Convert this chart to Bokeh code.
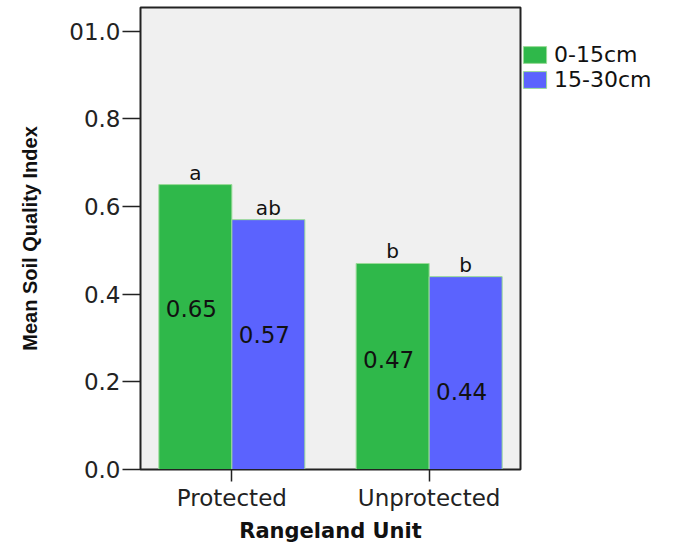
from bokeh.plotting import figure
from bokeh.models import ColumnDataSource, FactorRange, Range1d, FixedTicker, Legend, LegendItem
from bokeh.transform import dodge
from bokeh.core.properties import value
from bokeh.embed import file_html
from bokeh.resources import INLINE

# ---- data ----
units = ["Protected", "Unprotected"]
depths = ["0-15cm", "15-30cm"]
sqi_0_15 = [0.65, 0.47]
sqi_15_30 = [0.57, 0.44]
letters_0_15 = ["a", "b"]
letters_15_30 = ["ab", "b"]
value_labels_0_15 = ["0.65", "0.47"]
value_labels_15_30 = ["0.57", "0.44"]
label_pos_0_15 = [0.368, 0.25]
label_pos_15_30 = [0.309, 0.179]
y_ticks = [0.0, 0.2, 0.4, 0.6, 0.8, 1.0]
y_tick_labels = ["0.0", "0.2", "0.4", "0.6", "0.8", "01.0"]

GREEN = "#2fb84a"
BLUE = "#5b63fe"
EDGE = "#9adb98"
FONT = "DejaVu Sans"

p = figure(
    frame_width=380, frame_height=462,
    x_range=FactorRange(*units, range_padding=-0.037),
    y_range=Range1d(0, 1.054),
    output_backend="svg", toolbar_location=None,
    min_border_left=140, min_border_right=160,
    min_border_top=7, min_border_bottom=76,
)
p.background_fill_color = "#f0f0f0"
p.border_fill_color = "white"
p.outline_line_color = "#222222"
p.outline_line_width = 2
p.xgrid.visible = False
p.ygrid.visible = False

src0 = ColumnDataSource(dict(unit=units, val=sqi_0_15, lab=value_labels_0_15,
                             letter=letters_0_15, ly=label_pos_0_15))
src1 = ColumnDataSource(dict(unit=units, val=sqi_15_30, lab=value_labels_15_30,
                             letter=letters_15_30, ly=label_pos_15_30))

r0 = p.vbar(x=dodge("unit", -0.185, range=p.x_range), top="val", width=0.37,
            source=src0, fill_color=GREEN, line_color=EDGE, line_width=1)
r1 = p.vbar(x=dodge("unit", 0.185, range=p.x_range), top="val", width=0.37,
            source=src1, fill_color=BLUE, line_color=EDGE, line_width=1)

for src, off in ((src0, -0.185), (src1, 0.185)):
    p.text(x=dodge("unit", off, range=p.x_range), y="ly", text="lab", source=src,
           text_align="center", text_baseline="middle", x_offset=-4,
           text_font=value(FONT), text_font_size="23px", text_color="#111111")
    p.text(x=dodge("unit", off, range=p.x_range), y="val", text="letter", source=src,
           text_align="center", text_baseline="bottom",
           text_font=value(FONT), text_font_size="20px", text_color="#111111")

# y axis
p.yaxis.ticker = FixedTicker(ticks=y_ticks)
p.yaxis.major_label_overrides = dict(zip(y_ticks, y_tick_labels))
p.yaxis.major_tick_out = 18
p.yaxis.major_tick_in = 0
p.yaxis.minor_tick_line_color = None
p.yaxis.major_label_standoff = 2
p.yaxis.axis_label = "Mean Soil Quality Index"
p.yaxis.axis_label_text_font = "Liberation Sans"
p.yaxis.axis_label_text_font_style = "bold"
p.yaxis.axis_label_text_font_size = "20px"
p.yaxis.axis_label_standoff = 25

# x axis
p.xaxis.major_tick_out = 12
p.xaxis.major_tick_in = 0
p.xaxis.major_label_standoff = 3
p.xaxis.axis_label = "Rangeland Unit"
p.xaxis.axis_label_text_font = FONT
p.xaxis.axis_label_text_font_style = "bold"
p.xaxis.axis_label_text_font_size = "21px"
p.xaxis.axis_label_standoff = 5

for ax in (p.xaxis[0], p.yaxis[0]):
    ax.axis_line_color = "#222222"
    ax.major_tick_line_color = "#222222"
    ax.major_tick_line_width = 1.5
    ax.major_label_text_font = FONT
    ax.major_label_text_font_size = "23px"
    ax.major_label_text_color = "#222222"
    ax.axis_label_text_color = "#111111"

legend = Legend(
    items=[LegendItem(label=depths[0], renderers=[r0]),
           LegendItem(label=depths[1], renderers=[r1])],
    location="top_left", margin=0, padding=4, spacing=0,
    title=" ", title_text_font_size="22px", title_standoff=9,
    glyph_width=29, glyph_height=21, label_height=21, label_standoff=5,
    label_text_font=FONT, label_text_font_size="22px", label_text_color="#111111",
    border_line_color=None, background_fill_alpha=0,
)
p.add_layout(legend, "right")

open("out.html", "w").write(file_html(p, INLINE))
